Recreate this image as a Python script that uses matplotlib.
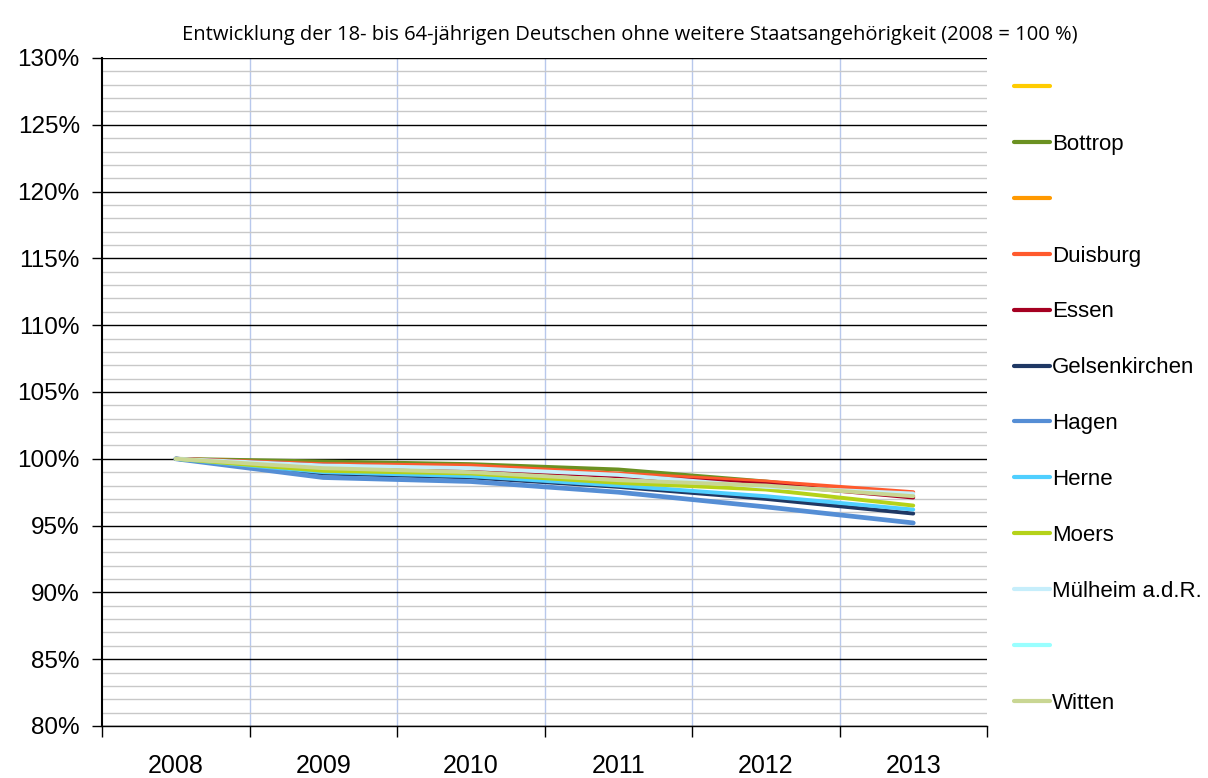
import numpy as np
import matplotlib
matplotlib.use("Agg")
import matplotlib.pyplot as plt
from matplotlib.ticker import MultipleLocator, FixedLocator, NullFormatter

years = ["2008", "2009", "2010", "2011", "2012", "2013"]

# legend order; blank names are series without data in the source
cities = ["", "Bottrop", "", "Duisburg", "Essen", "Gelsenkirchen", "Hagen",
          "Herne", "Moers", "Mülheim a.d.R.", "", "Witten"]
colors = ["#FFCC00", "#6B9121", "#FF9900", "#FF5A2D", "#A50021", "#1F3864",
          "#558ED5", "#4FCFFF", "#B5D219", "#C6EEFB", "#99FFFF", "#C9D693"]

nan = np.nan
blank = [nan] * 6
bottrop = [100, 99.8, 99.6, 99.2, 98.3, 97.2]
duisburg = [100, 99.6, 99.5, 98.9, 98.3, 97.5]
essen = [100, 99.5, 99.2, 98.7, 98.1, 97.1]
gelsenkirchen = [100, 98.9, 98.6, 97.9, 97.0, 95.9]
hagen = [100, 98.6, 98.3, 97.5, 96.4, 95.2]
herne = [100, 99.0, 98.7, 98.0, 97.2, 96.2]
moers = [100, 99.1, 98.9, 98.2, 97.7, 96.5]
muelheim = [100, 99.5, 99.3, 98.8, 97.9, 97.4]
witten = [100, 99.3, 99.0, 98.4, 98.0, 97.2]

series = [blank, bottrop, blank, duisburg, essen, gelsenkirchen, hagen,
          herne, moers, muelheim, blank, witten]

fig = plt.figure(figsize=(12.08, 7.78), dpi=100)
ax = fig.add_axes([102 / 1208, 1 - 726 / 778, 885 / 1208, 668 / 778])

x = np.arange(len(years))
for name, col, vals in zip(cities, colors, series):
    lw = 3.4 if name == "Hagen" else 2.8
    ax.plot(x, vals, color=col, lw=lw, label=name if name else " ",
            solid_capstyle="round", solid_joinstyle="round")

ax.set_xlim(-0.5, 5.5)
ax.set_ylim(80, 130)

# y grid: minor every 1 %, major every 5 %
ax.yaxis.set_major_locator(MultipleLocator(5))
ax.yaxis.set_minor_locator(MultipleLocator(1))
ax.set_yticklabels([f"{int(v)}%" for v in ax.get_yticks()])
ax.grid(axis="y", which="major", color="black", lw=1.0)
ax.grid(axis="y", which="minor", color="#c8c8c8", lw=1.0)
ax.tick_params(axis="y", which="major", direction="out", length=7, width=1,
               labelsize=17.5, pad=9)
ax.tick_params(axis="y", which="minor", length=0)

# x: category labels, ticks on boundaries
ax.xaxis.set_major_locator(FixedLocator(np.arange(-0.5, 6.0, 1)))
ax.xaxis.set_major_formatter(NullFormatter())
ax.xaxis.set_minor_locator(FixedLocator(x))
ax.set_xticks(x, years, minor=True)
ax.tick_params(axis="x", which="major", direction="out", length=8, width=1)
ax.tick_params(axis="x", which="minor", length=0, labelsize=18, pad=20)
for b in np.arange(0.5, 5.0, 1):
    ax.axvline(b, color="#b8c8ec", lw=1.0, zorder=0)

ax.set_axisbelow(True)
ax.spines["top"].set_visible(False)
ax.spines["right"].set_visible(False)
ax.spines["left"].set_linewidth(1.5)
ax.spines["bottom"].set_linewidth(1.0)
for lab in ax.get_yticklabels() + ax.get_xticklabels(minor=True):
    lab.set_family("Liberation Sans")

fig.text(630 / 1208, 1 - 35 / 778,
         "Entwicklung der 18- bis 64-jährigen Deutschen ohne weitere Staatsangehörigkeit (2008 = 100 %)",
         ha="center", va="center", fontsize=14.5, family="Open Sans")

leg = fig.legend(loc="upper left", bbox_to_anchor=(1005 / 1208, 1 - 69 / 778),
                 frameon=False, prop={"family": "Liberation Sans", "size": 16},
                 handlelength=1.62, handletextpad=0.08, labelspacing=1.57,
                 borderaxespad=0)
for h in leg.get_lines():
    h.set_linewidth(3)

fig.savefig("out.png", dpi=100)
